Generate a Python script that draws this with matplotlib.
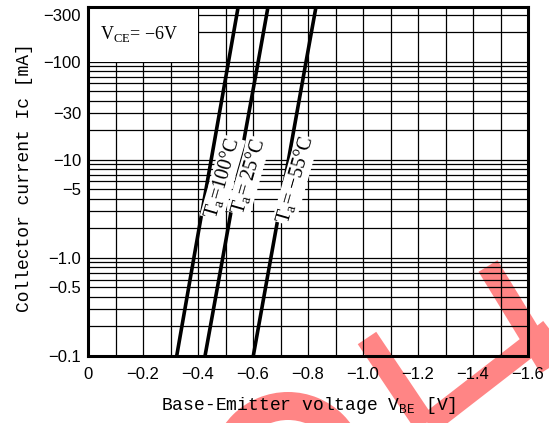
import matplotlib
matplotlib.use("Agg")
import matplotlib.pyplot as plt
from matplotlib.patches import Wedge
import numpy as np

# collector current magnitude [mA] and base-emitter voltage [V]
ic = [0.1, 1, 10, 100, 360]
vbe_100 = [-0.3225, -0.385, -0.448, -0.511, -0.546]
vbe_25 = [-0.4255, -0.490, -0.554, -0.619, -0.6545]
vbe_m55 = [-0.601, -0.665, -0.729, -0.793, -0.829]
curve_labels = ['T$_{\\mathregular{a}}$=100°C', 'T$_{\\mathregular{a}}$= 25°C', 'T$_{\\mathregular{a}}$= −55°C']

xticks = [0, -0.2, -0.4, -0.6, -0.8, -1.0, -1.2, -1.4, -1.6]
xticklabels = ['0', '−0.2', '−0.4', '−0.6', '−0.8', '−1.0', '−1.2', '−1.4', '−1.6']
yticks = [0.1, 0.5, 1, 5, 10, 30, 100, 300]
yticklabels = ['−0.1', '−0.5', '−1.0', '−5', '−10', '−30', '−100', '−300']

fig = plt.figure(figsize=(5.49, 4.23), dpi=100)
fig.patch.set_facecolor('white')

# red watermark strokes behind everything (pixel coords)
bg = fig.add_axes([0, 0, 1, 1])
bg.set_xlim(0, 549)
bg.set_ylim(423, 0)
bg.axis('off')
wm = '#ff8585'
bg.plot([367, 430], [338, 432], color=wm, lw=16, solid_capstyle='butt')
bg.plot([418, 560], [432, 322], color=wm, lw=16, solid_capstyle='butt')
bg.plot([488, 565], [266, 392], color=wm, lw=16, solid_capstyle='butt')
bg.add_patch(Wedge((288, 470), 78, 0, 360, width=28, color=wm, lw=0))

ax = fig.add_axes([88/549, 1-356/423, 440/549, 349/423])
ax.set_facecolor('none')
ax.set_yscale('log')
ax.set_axisbelow(True)

ax.set_xticks(xticks)
ax.set_xticklabels(xticklabels, fontsize=12, family='Liberation Sans')
ax.set_xticks(np.arange(0, -1.65, -0.1), minor=True)
ax.set_yticks(yticks)
ax.set_yticklabels(yticklabels, fontsize=12, family='Liberation Sans')
minor_y = [m * 10.0**d for d in range(-1, 2) for m in range(1, 10)] + [100, 200, 300]
ax.set_yticks(minor_y, minor=True)
ax.yaxis.set_minor_formatter(plt.NullFormatter())
ax.tick_params(which='both', length=0)
ax.tick_params(axis='x', pad=8)
ax.tick_params(axis='y', pad=5)
ax.grid(which='both', color='black', lw=0.9)

for s in ax.spines.values():
    s.set_linewidth(2.2)

# blank area for the condition text
ax.fill_between([0, -0.4], 100, 360, color='white', zorder=1, lw=0)
ax.text(-0.045, 190, 'V$_{\\mathregular{CE}}$= −6V', fontsize=13, family='Liberation Serif',
        va='center', ha='left', zorder=4)

for v in (vbe_100, vbe_25, vbe_m55):
    ax.plot(v, ic, color='black', lw=2.6, zorder=3, solid_capstyle='butt')

label_pos = [(-0.49, 6.5), (-0.585, 6.8), (-0.755, 6.2)]
for (lx, ly), t in zip(label_pos, curve_labels):
    ax.text(lx, ly, t, rotation=74, fontsize=14.5, family='Liberation Serif',
            ha='center', va='center', zorder=4,
            bbox=dict(facecolor='white', edgecolor='none', pad=0.5))

ax.set_xlim(0, -1.6)
ax.set_ylim(0.1, 360)

fig.text(25/549, 1-178/423, 'Collector current Ic [mA]', rotation=90, fontsize=13,
         family='Liberation Mono', ha='center', va='center')
fig.text(309/549, 1-405/423, 'Base-Emitter voltage V$_{\\mathregular{BE}}$ [V]', fontsize=13,
         family='Liberation Mono', ha='center', va='center')

fig.savefig('out.png', dpi=100, facecolor='white')
